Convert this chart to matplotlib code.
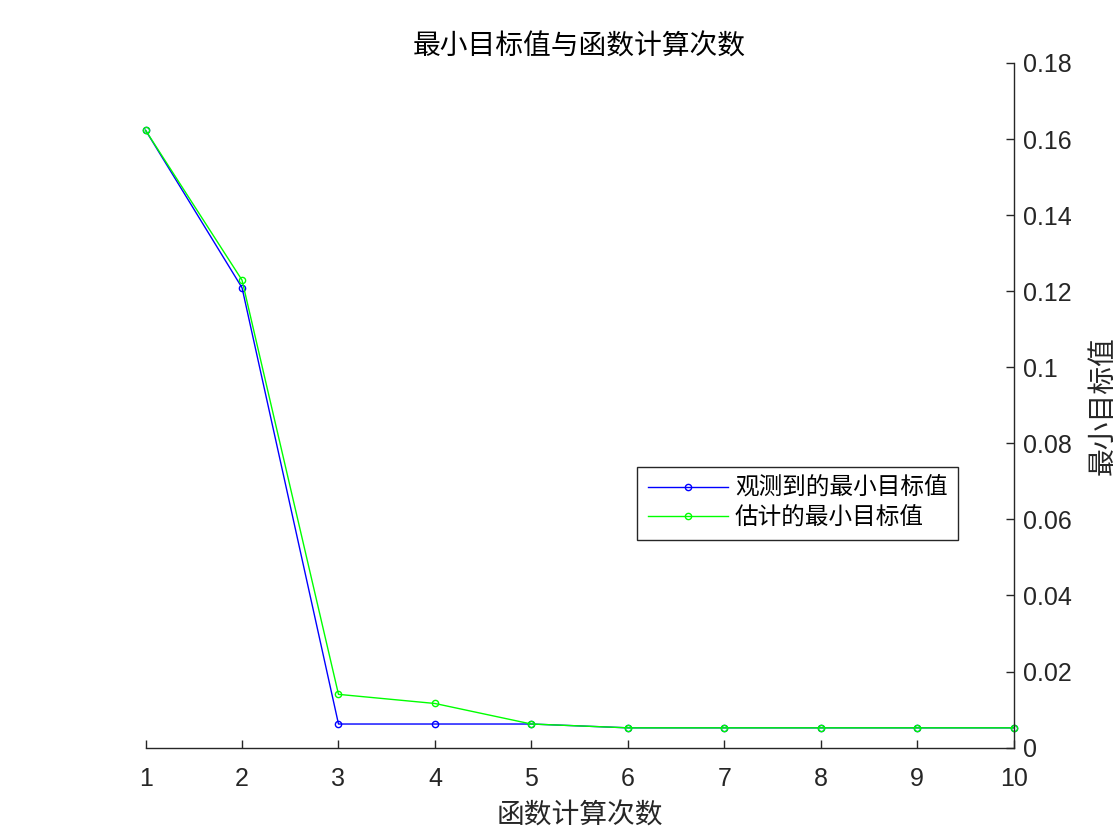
import matplotlib
matplotlib.use("Agg")
import matplotlib.pyplot as plt
import numpy as np

plt.rcParams['font.family'] = ['Liberation Sans', 'Noto Sans CJK SC', 'DejaVu Sans']

# Function evaluations and minimum objective values
evaluations = [1, 2, 3, 4, 5, 6, 7, 8, 9, 10]
observed_min = [0.1623, 0.1209, 0.0062, 0.0062, 0.0062, 0.0052, 0.0052, 0.0052, 0.0052, 0.0052]
estimated_min = [0.1623, 0.1229, 0.0140, 0.0116, 0.0062, 0.0052, 0.0052, 0.0052, 0.0052, 0.0052]

title_text = "最小目标值与函数计算次数"
xlabel_text = "函数计算次数"
ylabel_text = "最小目标值"
legend_labels = ["观测到的最小目标值", "估计的最小目标值"]
yticks = [0, 0.02, 0.04, 0.06, 0.08, 0.1, 0.12, 0.14, 0.16, 0.18]
yticklabels = ["0", "0.02", "0.04", "0.06", "0.08", "0.1", "0.12", "0.14", "0.16", "0.18"]

dark = (0.15, 0.15, 0.15)

fig = plt.figure(figsize=(11.2, 8.4), dpi=100)
ax = fig.add_axes([0.13, 0.11, 0.775, 0.815])

ax.plot(evaluations, observed_min, color=(0, 0, 1), lw=1.0, marker='o',
        markersize=4.5, markerfacecolor='none', markeredgewidth=1.0,
        label=legend_labels[0], clip_on=False)
ax.plot(evaluations, estimated_min, color=(0, 1, 0), lw=1.0, marker='o',
        markersize=4.5, markerfacecolor='none', markeredgewidth=1.0,
        label=legend_labels[1], clip_on=False)

ax.set_xlim(1, 10)
ax.set_ylim(0, 0.18)
ax.set_xticks(evaluations)
ax.set_yticks(yticks)
ax.set_yticklabels(yticklabels)

for side in ('top', 'left'):
    ax.spines[side].set_visible(False)
for side in ('bottom', 'right'):
    ax.spines[side].set_color(dark)
    ax.spines[side].set_linewidth(1.0)

ax.yaxis.tick_right()
ax.yaxis.set_label_position('right')
ax.tick_params(axis='both', direction='in', length=6, width=1.0,
               colors=dark, labelsize=18)
ax.tick_params(axis='x', pad=14)
ax.tick_params(axis='y', pad=7)

ax.set_title(title_text, fontsize=20, color='black', pad=6)
ax.set_xlabel(xlabel_text, fontsize=20, color=dark, labelpad=9)
ax.set_ylabel(ylabel_text, fontsize=20, color=dark, labelpad=13)

leg = ax.legend(loc='upper left', bbox_to_anchor=(637 / 1120, 1 - 467 / 840),
                bbox_transform=fig.transFigure, borderaxespad=0,
                fontsize=17, frameon=True, fancybox=False, framealpha=1,
                edgecolor=dark, handlelength=3.4, numpoints=1,
                labelspacing=0.3, borderpad=0.45, handletextpad=0.3)
leg.get_frame().set_linewidth(1.0)

fig.savefig("out.png", dpi=100, facecolor='white')
